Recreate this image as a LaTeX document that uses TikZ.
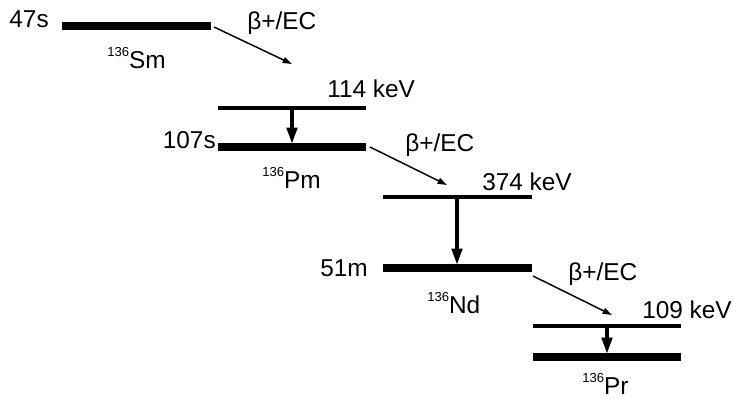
\documentclass[tikz,border=0pt]{standalone}
\usepackage{fontspec}
\setmainfont{Liberation Sans}
\usetikzlibrary{arrows.meta}
\newcommand{\nuc}[2]{\raisebox{8.6pt}{\fontsize{9.8}{10}\selectfont #1}#2}
\begin{document}
\begin{tikzpicture}[x=0.75pt,y=-0.75pt,
  font=\fontsize{18.3}{20}\selectfont,
  groundlvl/.style={line width=5.3pt},
  exclvl/.style={line width=2.3pt},
  gammaarr/.style={line width=2.3pt,-{Triangle[length=12pt,width=8pt]}},
  betaarr/.style={line width=1.1pt,-{Triangle[length=7pt,width=4.5pt]}},
  lbl/.style={inner sep=0pt,anchor=base west},
  lblr/.style={inner sep=0pt,anchor=base east}]
\useasboundingbox (0,0) rectangle (733,400);
% Sm
\coordinate (smL) at (62,26); \coordinate (smR) at (211,26);
\draw[groundlvl] (smL) -- (smR);
\node[lblr] (t47) at (49,27) {47s};
\node[lbl] (smname) at (107,68) {\nuc{136}{Sm}};
% Pm
\coordinate (pmxL) at (218,108); \coordinate (pmxR) at (366,108);
\coordinate (pmL) at (218,147); \coordinate (pmR) at (366,147);
\draw[exclvl] (pmxL) -- (pmxR);
\draw[groundlvl] (pmL) -- (pmR);
\node[lbl] (e114) at (327,97.5) {114 keV};
\node[lblr] (t107) at (216,148) {107s};
\node[lbl] (pmname) at (262,188) {\nuc{136}{Pm}};
\coordinate (b1s) at (214,27); \coordinate (b1e) at (292,64);
\draw[betaarr] (b1s) -- (b1e);
\node[lbl] (beta1) at (247,29) {β+/EC};
\coordinate (g1s) at (292,108); \coordinate (g1e) at (292,143.5);
\draw[gammaarr] (g1s) -- (g1e);
% Nd
\coordinate (ndxL) at (383,197); \coordinate (ndxR) at (532,197);
\coordinate (ndL) at (383,268); \coordinate (ndR) at (532,268);
\draw[exclvl] (ndxL) -- (ndxR);
\draw[groundlvl] (ndL) -- (ndR);
\node[lbl] (e374) at (482,190.5) {374 keV};
\node[lblr] (t51) at (368,276) {51m};
\node[lbl] (ndname) at (427,313) {\nuc{136}{Nd}};
\coordinate (b2s) at (370,147); \coordinate (b2e) at (447,185);
\draw[betaarr] (b2s) -- (b2e);
\node[lbl] (beta2) at (405,151) {β+/EC};
\coordinate (g2s) at (457,197); \coordinate (g2e) at (457,264.5);
\draw[gammaarr] (g2s) -- (g2e);
% Pr
\coordinate (prxL) at (533,326); \coordinate (prxR) at (681,326);
\coordinate (prL) at (533,357); \coordinate (prR) at (681,357);
\draw[exclvl] (prxL) -- (prxR);
\draw[groundlvl] (prL) -- (prR);
\node[lbl] (e109) at (642,318) {109 keV};
\node[lbl] (prname) at (582,394) {\nuc{136}{Pr}};
\coordinate (b3s) at (533,276); \coordinate (b3e) at (612,315);
\draw[betaarr] (b3s) -- (b3e);
\node[lbl] (beta3) at (568,280) {β+/EC};
\coordinate (g3s) at (607,326); \coordinate (g3e) at (607,353.5);
\draw[gammaarr] (g3s) -- (g3e);
\end{tikzpicture}
\end{document}
